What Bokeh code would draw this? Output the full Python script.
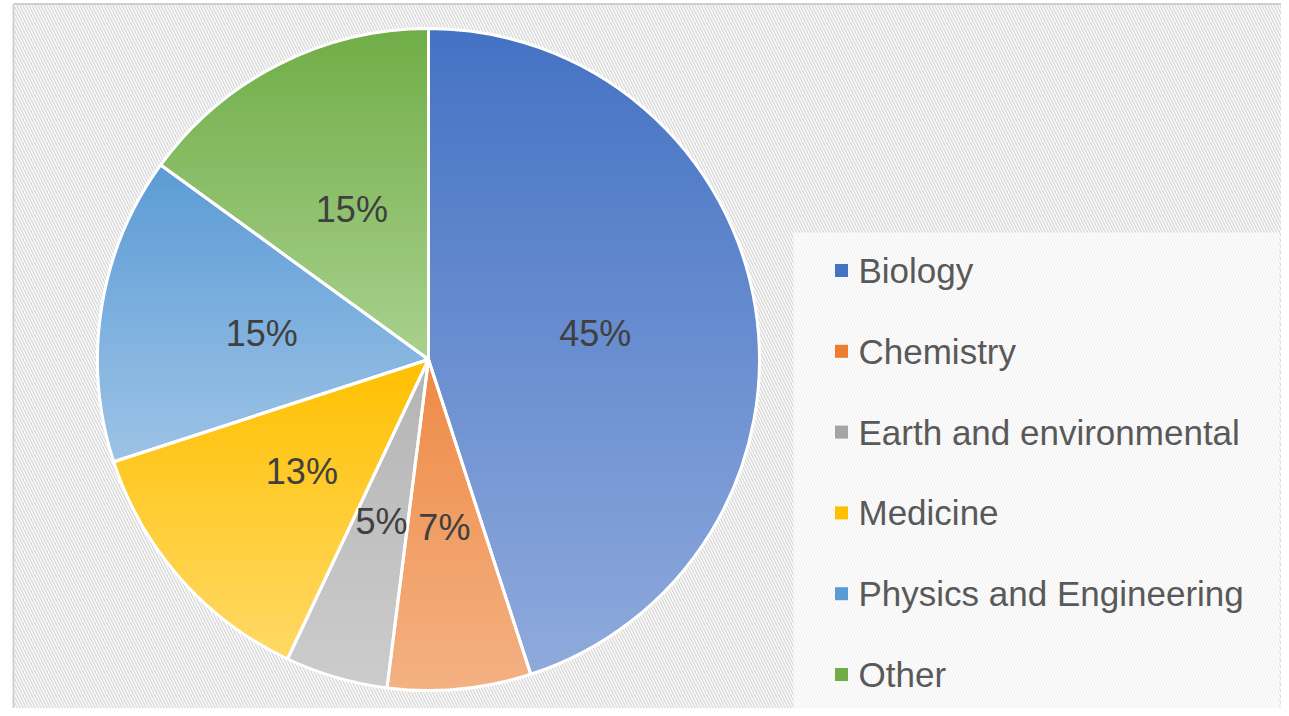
import numpy as np
from bokeh.plotting import figure
from bokeh.models import Range1d, ColumnDataSource
from bokeh.embed import file_html
from bokeh.resources import INLINE
from bokeh.core.properties import value

# ---- data ----
categories = ["Biology", "Chemistry", "Earth and environmental",
              "Medicine", "Physics and Engineering", "Other"]
shares = [45, 7, 5, 13, 15, 15]
pct_labels = ["45%", "7%", "5%", "13%", "15%", "15%"]
top_colors = ["#4472c4", "#ee8a45", "#b4b4b4", "#ffc000", "#5b9bd5", "#70ad47"]
bottom_colors = ["#8faadc", "#f4b183", "#cccccc", "#ffd966", "#9dc3e6", "#a9d18e"]
legend_colors = ["#4472c4", "#ed7d31", "#a5a5a5", "#ffc000", "#5b9bd5", "#70ad47"]

# ---- layout (pixel-like data units, y up) ----
W, H = 1281, 708
def Y(py):
    return H - py

cx, cy, R = 428.0, Y(359), 331.0
FONT = "Liberation Sans"

p = figure(width=W, height=H, x_range=Range1d(0, W), y_range=Range1d(0, H),
           output_backend="svg", toolbar_location=None, min_border=0)
p.axis.visible = False
p.grid.visible = False
p.outline_line_color = None
p.background_fill_color = "white"
p.border_fill_color = "white"

# hatched background
p.quad(left=[14], right=[W], bottom=[0], top=[Y(4)], fill_color="white",
       line_color=None, hatch_pattern="\\", hatch_color="#dcdcdc",
       hatch_weight=1.6, hatch_scale=6)
p.segment(x0=[13], y0=[0], x1=[13], y1=[Y(4)], line_color="#cfcfcf", line_width=2)
p.segment(x0=[13], y0=[Y(3.5)], x1=[W], y1=[Y(3.5)], line_color="#cfcfcf", line_width=2)

# legend panel
p.quad(left=[793], right=[W - 2], bottom=[0], top=[Y(232)], fill_color="white",
       fill_alpha=0.65, line_color=None)

# ---- pie wedges ----
total = float(sum(shares))
cum = np.cumsum([0] + shares[:-1])
starts = np.deg2rad(90 - cum / total * 360.0)
ends = np.deg2rad(90 - (cum + np.array(shares)) / total * 360.0)
mids = (starts + ends) / 2

src = ColumnDataSource(dict(start=starts, end=ends, color=top_colors, cat=categories))
p.wedge(x=cx, y=cy, radius=R, start_angle="start", end_angle="end",
        direction="clock", fill_color="color", line_color=None, source=src)

# vertical gradient within each wedge (horizontal strips)
def hexrgb(h):
    h = h.lstrip("#")
    return np.array([int(h[i:i + 2], 16) for i in (0, 2, 4)], float)

def clip(poly, yv, keep_above):
    out = []
    n = len(poly)
    for i in range(n):
        a, b = poly[i], poly[(i + 1) % n]
        ina = a[1] >= yv if keep_above else a[1] <= yv
        inb = b[1] >= yv if keep_above else b[1] <= yv
        if ina:
            out.append(a)
        if ina != inb:
            t = (yv - a[1]) / (b[1] - a[1])
            out.append((a[0] + t * (b[0] - a[0]), yv))
    return out

gx, gy, gc = [], [], []
for s, e, c0, c1 in zip(starts, ends, top_colors, bottom_colors):
    angs = np.linspace(s, e, max(8, int(abs(s - e) / np.deg2rad(1.0))))
    poly = [(cx, cy)] + [(cx + R * np.cos(a), cy + R * np.sin(a)) for a in angs]
    ys = [q[1] for q in poly]
    ymin, ymax = min(ys), max(ys)
    rgb0, rgb1 = hexrgb(c0), hexrgb(c1)
    step = 5.0
    yhi = ymax
    while yhi > ymin:
        ylo = max(ymin, yhi - step)
        part = clip(clip(poly, ylo - 0.6, True), yhi + 0.6, False)
        if len(part) >= 3:
            f = (ymax - (ylo + yhi) / 2) / (ymax - ymin)
            rgb = rgb0 + (rgb1 - rgb0) * f
            gx.append([q[0] for q in part])
            gy.append([q[1] for q in part])
            gc.append("#%02x%02x%02x" % tuple(int(round(v)) for v in rgb))
        yhi = ylo
p.patches(xs=gx, ys=gy, fill_color=gc, line_color=None)

# white separators
p.wedge(x=cx, y=cy, radius=R, start_angle="start", end_angle="end",
        direction="clock", fill_color=None, line_color="white", line_width=3, source=src)

# percentage labels
lr = 0.51 * R
lab = ColumnDataSource(dict(x=cx + lr * np.cos(mids), y=cy + lr * np.sin(mids), t=pct_labels))
p.text(x="x", y="y", text="t", source=lab, text_align="center", text_baseline="middle",
       text_font=value(FONT), text_font_size="36px", text_color="#404040")

# legend
ly = np.array([Y(270 + i * 80.8) for i in range(len(categories))])
leg = ColumnDataSource(dict(y=ly, c=legend_colors, t=categories))
p.rect(x=841, y="y", width=13, height=13, fill_color="c", line_color=None, source=leg)
p.text(x=858, y="y", text="t", source=leg, text_align="left", text_baseline="middle",
       text_font=value(FONT), text_font_size="35px", text_color="#595959")

open("out.html", "w").write(file_html(p, INLINE))
